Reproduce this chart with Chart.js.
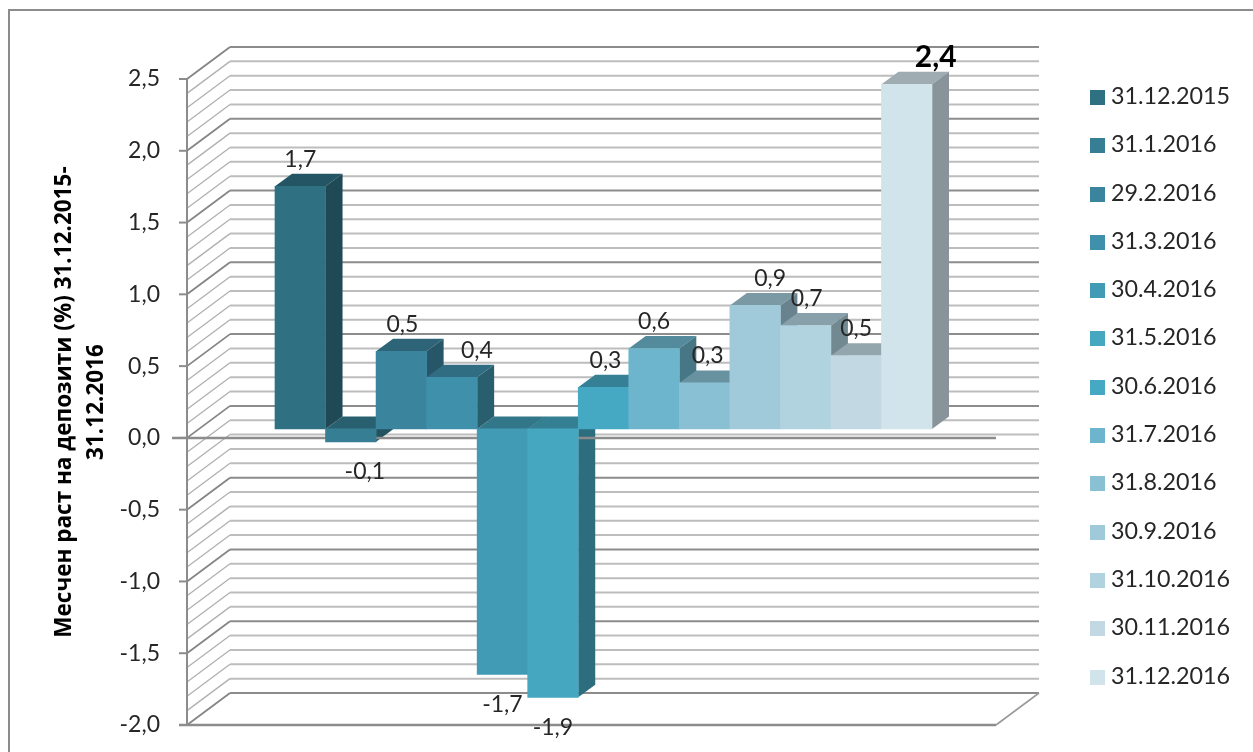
<!DOCTYPE html>
<html>
<head>
<meta charset="utf-8">
<title>Месчен раст на депозити</title>
<script src="https://cdn.jsdelivr.net/npm/chart.js@4/dist/chart.umd.min.js"></script>
<style>
    html, body { margin: 0; padding: 0; background: #fff; overflow: hidden; }
    #wrap { position: relative; width: 1253px; height: 752px; overflow: hidden; font-family: Lato, "Open Sans", sans-serif; filter: blur(0.4px); }
    #frame { position: absolute; left: 8px; top: 9px; width: 1300px; height: 800px; border: 2px solid #8c8c8c; }
    #chart { position: absolute; left: 0; top: 0; }
    #legend { position: absolute; left: 1090px; top: 71px; margin: 0; padding: 0; list-style: none; }
    #legend li { height: 48.3px; line-height: 48.3px; font-size: 23.3px; color: #262626; white-space: nowrap; }
    #legend i { display: inline-block; width: 15px; height: 15px; margin-right: 6px; vertical-align: -1px; }
</style>
</head>
<body>
<div id="wrap">
    <div id="frame"></div>
    <canvas id="chart" width="1253" height="752"></canvas>
    <ul id="legend"></ul>
</div>
<script>
// Chart data
const categories = ['31.12.2015', '31.1.2016', '29.2.2016', '31.3.2016', '30.4.2016', '31.5.2016', '30.6.2016',
    '31.7.2016', '31.8.2016', '30.9.2016', '31.10.2016', '30.11.2016', '31.12.2016'];
const growth = [1.69, -0.09, 0.54, 0.36, -1.71, -1.87, 0.29, 0.56, 0.32, 0.86, 0.72, 0.51, 2.4];
const barColors = ['#2f7083', '#367e94', '#3b849e', '#3f90ab', '#429bb5', '#46a7c0', '#46a9c4',
    '#6db5cd', '#8ac0d3', '#a0c9d9', '#b1d2df', '#c2d9e4', '#d1e3eb'];
const yTitle = ['Месчен раст на депозити (%) 31.12.2015-', '31.12.2016'];

// Fake 3D settings (px)
const wallDx = 43, wallDy = -32;
const barDx = 17, barDy = -12.5;
const barLift = 9;
const axisX = 187;
const frontRight = 996;
const minorStep = 0.1;
// Excel moved some labels off the bar centre
const labelNudge = [0, 14, 1, 25, 0, 0, 2, 0, 3, 15, 1, 0, 29];

function shade(hex, k) {
    const n = parseInt(hex.slice(1), 16);
    return `rgb(${Math.round((n >> 16) * k)}, ${Math.round(((n >> 8) & 255) * k)}, ${Math.round((n & 255) * k)})`;
}

function poly(ctx, pts, fill) {
    ctx.beginPath();
    pts.forEach((p, i) => i ? ctx.lineTo(p[0], p[1]) : ctx.moveTo(p[0], p[1]));
    ctx.closePath();
    ctx.fillStyle = fill;
    ctx.fill();
}

function line(ctx, x1, y1, x2, y2, color, width) {
    ctx.beginPath();
    ctx.moveTo(x1, y1);
    ctx.lineTo(x2, y2);
    ctx.strokeStyle = color;
    ctx.lineWidth = width;
    ctx.stroke();
}

const bars3d = {
    id: 'bars3d',
    beforeDatasetsDraw(chart) {
        const { ctx, scales: { y } } = chart;
        ctx.save();

        // Back wall and side wall gridlines
        const steps = Math.round((y.max - y.min) / minorStep);
        for (let i = 0; i <= steps; i++) {
            const v = y.min + i * minorStep;
            const py = y.getPixelForValue(v);
            const major = i % 5 === 0;
            line(ctx, axisX, py, axisX + wallDx, py + wallDy, major ? '#858585' : '#b0b0b0', major ? 1.8 : 1.3);
            line(ctx, axisX + wallDx, py + wallDy, frontRight + wallDx, py + wallDy, major ? '#8c8c8c' : '#bdbdbd', 2);
        }

        // Axis, floor and zero line
        const yBottom = y.getPixelForValue(y.min);
        line(ctx, axisX, y.getPixelForValue(y.max), axisX, yBottom, '#8c8c8c', 2);
        line(ctx, 179, yBottom, frontRight, yBottom, '#8c8c8c', 2.5);
        line(ctx, frontRight, yBottom, frontRight + wallDx, yBottom + wallDy, '#9a9a9a', 1.6);
        y.ticks.forEach(t => {
            const py = y.getPixelForValue(t.value);
            line(ctx, 179, py, axisX, py, '#8c8c8c', 2);
        });

        // Tops and sides, left to right, so the next bar hides what it should
        const bars = chart.getDatasetMeta(0).data;
        bars.forEach((b, i) => {
            const left = b.x - b.width / 2, right = b.x + b.width / 2;
            const top = Math.min(b.y, b.base) - barLift, bottom = Math.max(b.y, b.base) - barLift;
            poly(ctx, [[left, top], [left + barDx, top + barDy], [right + barDx, top + barDy], [right, top]], shade(barColors[i], 0.76));
            poly(ctx, [[right, top], [right + barDx, top + barDy], [right + barDx, bottom + barDy], [right, bottom]], shade(barColors[i], 0.65));
        });

        line(ctx, 172, y.getPixelForValue(0), frontRight, y.getPixelForValue(0), '#8c8c8c', 2.5);

        ctx.restore();

        // Fronts are drawn by Chart.js itself, just lifted off the front plane
        ctx.save();
        ctx.translate(0, -barLift);
    },
    afterDatasetsDraw(chart) {
        const { ctx } = chart;
        ctx.restore();

        // Value labels
        ctx.save();
        ctx.textAlign = 'center';
        ctx.textBaseline = 'middle';
        chart.getDatasetMeta(0).data.forEach((b, i) => {
            const value = growth[i];
            const last = i === growth.length - 1;
            const text = value.toFixed(1).replace('.', ',');
            ctx.font = last ? 'bold 30px Lato, "Open Sans", sans-serif' : '23px Lato, "Open Sans", sans-serif';
            ctx.fillStyle = last ? '#000' : '#262626';
            ctx.fillText(text, b.x + labelNudge[i], b.y - barLift + (value >= 0 ? -27 : 30));
        });
        ctx.restore();
    }
};

new Chart(document.getElementById('chart'), {
    type: 'bar',
    data: {
        labels: categories,
        datasets: [{
            data: growth,
            backgroundColor: barColors,
            borderWidth: 0,
            barPercentage: 1,
            categoryPercentage: 1,
            clip: false
        }]
    },
    options: {
        responsive: false,
        maintainAspectRatio: false,
        animation: false,
        devicePixelRatio: 1,
        layout: { padding: { left: 48, top: 79, right: 321, bottom: 27 } },
        plugins: {
            legend: { display: false },
            tooltip: { enabled: false }
        },
        scales: {
            x: { display: false, offset: true, grid: { display: false } },
            y: {
                min: -2,
                max: 2.5,
                // big tick padding pushes labels out past the 3D walls, don't let it eat the height too
                afterFit: (scale) => {
                    scale.width = 227;
                    scale.paddingTop = 0;
                    scale.paddingBottom = 0;
                },
                grid: { display: false },
                border: { display: false },
                ticks: {
                    stepSize: 0.5,
                    padding: 107,
                    color: '#262626',
                    font: { family: 'Lato, "Open Sans", sans-serif', size: 23 },
                    callback: (v) => v.toFixed(1).replace('.', ',')
                },
                title: {
                    display: true,
                    text: yTitle,
                    color: '#000',
                    font: { family: '"Open Sans", sans-serif', size: 22.5, weight: 'bold', lineHeight: 1.45 },
                    padding: 0
                }
            }
        }
    },
    plugins: [bars3d]
});

// Legend list
const legendEl = document.getElementById('legend');
categories.forEach((c, i) => {
    const li = document.createElement('li');
    const swatch = document.createElement('i');
    swatch.style.background = barColors[i];
    li.appendChild(swatch);
    li.appendChild(document.createTextNode(c));
    legendEl.appendChild(li);
});
</script>
</body>
</html>
